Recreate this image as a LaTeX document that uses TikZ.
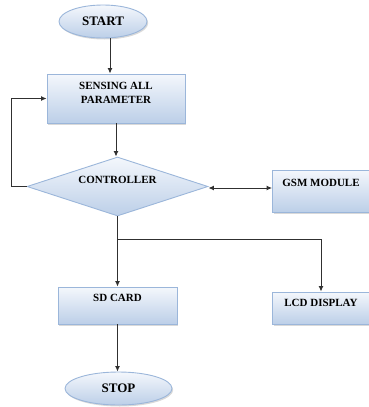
\documentclass[tikz,border=0pt]{standalone}
\usepackage{fontspec}
\setmainfont{Liberation Serif}
\usetikzlibrary{shapes.geometric, arrows.meta, shadows}

\definecolor{fuelloben}{HTML}{F4F7FC}
\definecolor{fuellunten}{HTML}{BCCFE8}
\definecolor{rahmen}{HTML}{9BB6DA}
\definecolor{linie}{HTML}{303030}

\begin{document}
\begin{tikzpicture}[x=1pt, y=-1pt, line width=1pt,
    blockbox/.style={shape=rectangle, draw=rahmen, line width=0.9pt, top color=fuelloben, bottom color=fuellunten,
        inner sep=0pt, text height=7.5pt, align=center, font=\fontsize{11}{14}\selectfont\bfseries,
        drop shadow={opacity=0.3, shadow xshift=1.2pt, shadow yshift=-1.5pt}},
    terminal/.style={shape=ellipse, draw=rahmen, line width=0.9pt, top color=fuelloben, bottom color=fuellunten,
        inner sep=0pt, minimum height=33pt, font=\fontsize{13}{14}\selectfont\bfseries,
        drop shadow={opacity=0.3, shadow xshift=1.2pt, shadow yshift=-1.5pt}},
    decision/.style={shape=diamond, draw=rahmen, line width=0.9pt, top color=fuelloben, bottom color=fuellunten,
        inner sep=0pt, aspect=3.07, text height=7.5pt, font=\fontsize{11}{14}\selectfont\bfseries},
    arr/.style={draw=linie, -{Latex[length=5.5pt, width=5pt]}}
]
\useasboundingbox (0,0) rectangle (368,407);

% --- Start und Ende ---
\node[terminal, minimum width=88pt]  (start) at (103,21.5)  {START};
\node[terminal, minimum width=107pt] (stop)  at (118.5,388.5) {STOP};

% --- Bloecke ---
\node[blockbox, minimum width=138pt, minimum height=49pt, text height=21.5pt, text depth=11pt] (sense) at (116,98.5)
    {SENSING ALL\\PARAMETER};
\node[decision, minimum width=181pt, minimum height=59pt, text depth=13pt] (ctrl) at (117.5,186.5) {CONTROLLER};
\node[blockbox, minimum width=97pt, minimum height=42pt, text depth=16pt] (gsm) at (321,191) {GSM MODULE};
\node[blockbox, minimum width=119pt, minimum height=37pt, text depth=16pt] (sd) at (117.5,305.5) {SD CARD};
\node[blockbox, minimum width=97pt, minimum height=32pt, text depth=10pt] (lcd) at (321,308) {LCD DISPLAY};

% --- Verbindungen ---
\coordinate (s1) at ([xshift=7pt]start.south);
\draw[arr] (s1) -- (s1 |- sense.north);
\draw[arr] (sense.south) -- (sense.south |- ctrl.north);
\draw[arr] (ctrl.west) -- ++(-15,0) |- (sense.west); % Rueckfuehrung
\draw[draw=linie, {Latex[length=5.5pt, width=5pt]}-{Latex[length=5.5pt, width=5pt]}]
    ([yshift=-1.5pt]ctrl.east) -- ([yshift=-1.5pt]ctrl.east -| gsm.west);

% --- Verzweigung ---
\coordinate (split) at (ctrl.south |- 0,239);
\draw[draw=linie] (ctrl.south) -- (split);
\draw[arr] (split) -- (sd.north);
\draw[arr] (split) -| (lcd.north);
\draw[arr] (sd.south) -- (sd.south |- stop.north);

\end{tikzpicture}
\end{document}
